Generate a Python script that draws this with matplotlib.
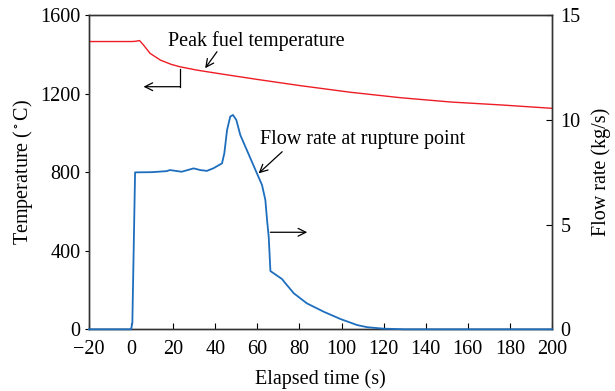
import matplotlib
matplotlib.use("Agg")
from matplotlib import pyplot as plt

# peak fuel temperature (deg C) vs elapsed time (s)
temp_time = [-20, 0, 2, 4, 6, 9, 14, 19, 23, 31, 41, 60, 80, 104, 128, 152, 176, 200]
temp_vals = [1465, 1465, 1466, 1470, 1446, 1405, 1370, 1349, 1337, 1320, 1303, 1272, 1241, 1207, 1179, 1157, 1142, 1125]

# flow rate at rupture point (kg/s)
flow_time = [-20, 0, 0.6, 1.9, 10, 17, 18.4, 24, 29.7, 32.9, 36, 39.2, 43.2, 44.3, 45.6, 47.1, 48.4, 50,
             51.9, 56.7, 60.1, 62.2, 63.8, 64.6, 65.4, 66.2, 71.7, 73.3, 77.3, 83.5, 91.5, 99.5, 107.5,
             112.2, 120, 130, 200]
flow_vals = [0, 0, 0.3, 7.49, 7.5, 7.55, 7.6, 7.52, 7.68, 7.6, 7.56, 7.69, 7.92, 8.4, 9.51, 10.15, 10.23, 9.99,
             9.27, 8.16, 7.37, 6.89, 6.17, 5.22, 4.4, 2.78, 2.4, 2.2, 1.72, 1.24, 0.84, 0.49, 0.2,
             0.1, 0.03, 0.0, 0.0]

RED = '#ee1c24'
BLUE = '#1e6ebe'
FS = 14.5

plt.rcParams['font.family'] = ['Liberation Serif', 'DejaVu Serif']
plt.rcParams['mathtext.fontset'] = 'stix'

fig = plt.figure(figsize=(6.15, 3.91), dpi=100)
ax = fig.add_axes([0.1447, 0.1578, 0.7529, 0.8038])
ax2 = ax.twinx()

ax.plot(temp_time, temp_vals, color=RED, lw=1.0, zorder=3)
ax2.plot(flow_time, flow_vals, color=BLUE, lw=1.3, zorder=3, clip_on=False)

ax.set_xlim(-20, 200)
ax.set_ylim(0, 1600)
ax2.set_ylim(0, 15)
ax.set_xticks(range(-20, 201, 20))
ax.set_xticklabels(['\u221220'] + [str(v) for v in range(0, 201, 20)])
ax.set_yticks([0, 400, 800, 1200, 1600])
ax2.set_yticks([0, 5, 10, 15])

ax.tick_params(axis='x', direction='in', length=4, labelsize=FS, pad=8)
ax.tick_params(axis='y', direction='out', length=3, labelsize=FS, pad=3)
ax2.tick_params(axis='y', direction='in', length=4, labelsize=FS, pad=6)

for a in (ax, ax2):
    for s in a.spines.values():
        s.set_color('#333333')
        s.set_linewidth(1.0)

ax.set_xlabel('Elapsed time (s)', fontsize=FS, labelpad=7)
ax.set_ylabel('Temperature ($^\\circ$C)', fontsize=FS, labelpad=4)
ax2.set_ylabel('Flow rate (kg/s)', fontsize=FS, labelpad=8)

arrow = dict(arrowstyle='->', color='black', lw=0.9, shrinkA=0, shrinkB=0,
             mutation_scale=14)

ax.text(17.6, 1468, 'Peak fuel temperature', fontsize=FS, va='center', ha='left')
ax.annotate('', xy=(35.2, 1329), xytext=(40.8, 1413), arrowprops=arrow)
ax.plot([23.3, 23.3], [1325, 1235], color='black', lw=0.9)
ax.annotate('', xy=(5.9, 1235), xytext=(23.3, 1235), arrowprops=arrow)

ax.text(61.4, 964, 'Flow rate at rupture point', fontsize=FS, va='center', ha='left')
ax.annotate('', xy=(60.6, 794), xytext=(71.8, 904), arrowprops=arrow)
ax.annotate('', xy=(83.7, 494), xytext=(66.2, 494), arrowprops=arrow)

fig.savefig('out.png', dpi=100)
